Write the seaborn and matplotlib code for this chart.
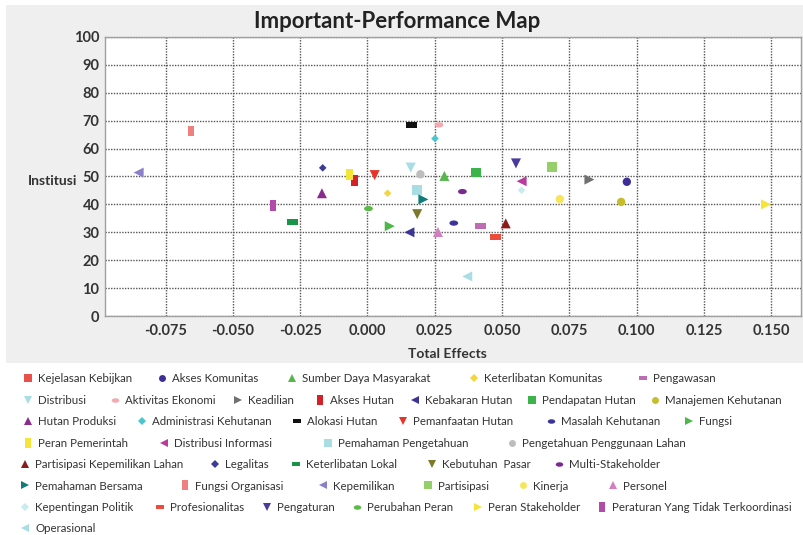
import numpy as np
import pandas as pd
import seaborn as sns
import matplotlib.pyplot as plt
from matplotlib.path import Path
from matplotlib.lines import Line2D
from matplotlib.markers import MarkerStyle
from matplotlib.patches import Rectangle

# data
names = [
    "Kejelasan Kebijkan", "Akses Komunitas", "Sumber Daya Masyarakat",
    "Keterlibatan Komunitas", "Pengawasan",
    "Distribusi", "Aktivitas Ekonomi", "Keadilian", "Akses Hutan",
    "Kebakaran Hutan", "Pendapatan Hutan", "Manajemen Kehutanan",
    "Hutan Produksi", "Administrasi Kehutanan", "Alokasi Hutan",
    "Pemanfaatan Hutan", "Masalah Kehutanan", "Fungsi",
    "Peran Pemerintah", "Distribusi Informasi", "Pemahaman Pengetahuan",
    "Pengetahuan Penggunaan Lahan",
    "Partisipasi Kepemilikan Lahan", "Legalitas", "Keterlibatan Lokal",
    "Kebutuhan  Pasar", "Multi-Stakeholder",
    "Pemahaman Bersama", "Fungsi Organisasi", "Kepemilikan", "Partisipasi",
    "Kinerja", "Personel",
    "Kepentingan Politik", "Profesionalitas", "Pengaturan", "Perubahan Peran",
    "Peran Stakeholder", "Peraturan Yang Tidak Terkoordinasi",
    "Operasional",
]

total_effects = [
    0.0475, 0.0964, 0.0286, 0.0075, 0.0420,
    0.0161, 0.0266, 0.0825, -0.0047, 0.0156, 0.0404, 0.0943,
    -0.0169, 0.0251, 0.0163, 0.0027, 0.0321, 0.0083,
    -0.0067, 0.0573, 0.0185, 0.0197,
    0.0514, -0.0166, -0.0278, 0.0185, 0.0353,
    0.0208, -0.0656, -0.0850, 0.0685, 0.0715, 0.0262,
    0.0573, 0.0475, 0.0552, 0.0004, 0.1481, -0.0350,
    0.0371,
]

institusi = [
    28.4, 48.1, 50.2, 44.0, 32.3,
    53.2, 68.5, 48.9, 48.7, 30.0, 51.4, 40.9,
    44.0, 63.6, 68.4, 50.5, 33.3, 32.2,
    50.7, 48.3, 45.1, 50.8,
    33.2, 53.1, 33.7, 36.5, 44.6,
    41.8, 66.3, 51.4, 53.3, 41.9, 30.1,
    45.1, 28.4, 54.7, 38.5, 40.0, 39.7,
    14.2,
]

colors = [
    "#e8504a", "#3f2e96", "#56b84c", "#f5d63a", "#c06cb4",
    "#a8dde6", "#f4a8b0", "#707070", "#d42027", "#3a3597", "#3cb44b", "#c5bd2a",
    "#8b2a8f", "#4ac6cf", "#111111", "#e8342a", "#3c3597", "#4db848",
    "#f5e536", "#b83b9d", "#a8dde3", "#bdbdbd",
    "#8b1a1a", "#3e3a98", "#1a9448", "#7a7a2a", "#7a2a8f",
    "#117a7a", "#f08080", "#8a7fc8", "#94cf6a", "#f7e55c", "#d37ec0",
    "#c8ebef", "#ec4c3c", "#4a3a9e", "#5cb848", "#f5e536", "#b14aa8",
    "#a8dde6",
]

# legend layout: entries per row and marker x (pixels) of each entry
legend_rows = [5, 7, 6, 4, 5, 6, 6, 1]
legend_x_px = [
    28, 162, 292, 474, 643,
    28, 115, 238, 320, 415, 532, 655,
    28, 142, 297, 403, 551, 689,
    28, 164, 328, 512,
    25, 215, 296, 432, 559,
    25, 185, 323, 428, 523, 613,
    25, 160, 267, 357, 478, 602,
    25,
]

# marker shapes cycle through ten styles
wide_rect = Path([(-1, -0.55), (1, -0.55), (1, 0.55), (-1, 0.55), (-1, -0.55)],
                 [Path.MOVETO, Path.LINETO, Path.LINETO, Path.LINETO, Path.CLOSEPOLY])
tall_rect = Path([(-0.6, -1), (0.6, -1), (0.6, 1), (-0.6, 1), (-0.6, -1)],
                 [Path.MOVETO, Path.LINETO, Path.LINETO, Path.LINETO, Path.CLOSEPOLY])
circ = Path.unit_circle()
ellipse = Path(circ.vertices * np.array([1.0, 0.6]), circ.codes)

shape_cycle = ["s", "o", "^", "D", wide_rect, "v", ellipse, ">", tall_rect, "<"]
size_cycle = [48, 36, 52, 15, 60, 52, 40, 52, 62, 52]
legend_ms_cycle = [5.4, 5.0, 5.6, 3.6, 6.2, 5.6, 5.4, 5.6, 6.6, 5.6]

marker_map = {n: shape_cycle[i % 10] for i, n in enumerate(names)}
size_map = {n: size_cycle[i % 10] for i, n in enumerate(names)}
palette = dict(zip(names, colors))
# first entry is hidden under Profesionalitas in the reference
size_map[names[0]] = 18

df = pd.DataFrame({"name": names, "Total Effects": total_effects, "Institusi": institusi})

sns.set_style("white")
plt.rcParams["font.family"] = ["Lato", "DejaVu Sans"]

fig = plt.figure(figsize=(8.04, 5.35), dpi=100)
fig.patch.set_facecolor("white")
# grey panel behind the chart
fig.patches.append(Rectangle((6 / 804, 1 - 363 / 535), 798 / 804, 358 / 535,
                             transform=fig.transFigure, facecolor="#efefef",
                             edgecolor="none", zorder=-10))

ax = fig.add_axes([105 / 804, 1 - 316 / 535, 695.7 / 804, 279 / 535])
ax.set_facecolor("white")

sns.scatterplot(data=df, x="Total Effects", y="Institusi", hue="name", style="name",
                size="name", palette=palette, markers=marker_map, sizes=size_map,
                linewidth=0, legend=False, ax=ax, zorder=3)

ax.set_xlim(-0.0975, 0.161)
ax.set_ylim(0, 100)
ax.set_xticks(np.arange(-0.075, 0.151, 0.025))
ax.set_xticklabels([f"{v:.3f}" for v in np.arange(-0.075, 0.151, 0.025)])
ax.set_yticks(np.arange(0, 101, 10))
ax.grid(True, color="#555555", linestyle=(0, (1, 1)), linewidth=1.0)
ax.set_axisbelow(True)
for sp in ax.spines.values():
    sp.set_color("#a0a0a0")
    sp.set_linewidth(1)
ax.tick_params(length=0, labelsize=10.5, labelcolor="#333333")
ax.tick_params(axis="x", pad=6)
ax.tick_params(axis="y", pad=4)
for lab in ax.get_xticklabels() + ax.get_yticklabels():
    lab.set_fontweight("bold")

ax.set_xlabel("Total Effects", fontsize=10, fontweight="bold", color="#333333")
ax.set_ylabel("Institusi", fontsize=10, fontweight="bold", color="#333333",
              rotation=0, ha="center", va="center")
ax.xaxis.set_label_coords(0.4916, -0.115)
ax.yaxis.set_label_coords(-0.076, 0.484)

fig.text(397 / 804, 1 - 21 / 535, "Important-Performance Map", ha="center", va="center",
         fontsize=16, fontweight="bold", color="#222222")

# flow legend: one small legend per entry
fs = 8.3
handle_px = fs * 100 / 72 * 1.0
i = 0
for r, count in enumerate(legend_rows):
    y = 1 - (379 + r * 21.4) / 535
    for _ in range(count):
        n = names[i]
        h = Line2D([], [], linestyle="none", marker=MarkerStyle(marker_map[n]),
                   markersize=legend_ms_cycle[i % 10], markerfacecolor=palette[n],
                   markeredgewidth=0)
        x0 = (legend_x_px[i] - handle_px / 2) / 804
        leg = fig.legend([h], [n], loc="center left", bbox_to_anchor=(x0, y),
                         frameon=False, fontsize=fs, handlelength=1.0,
                         handletextpad=0.4, borderpad=0, borderaxespad=0)
        leg.get_texts()[0].set_color("#333333")
        i += 1

fig.savefig("out.png", dpi=100)
